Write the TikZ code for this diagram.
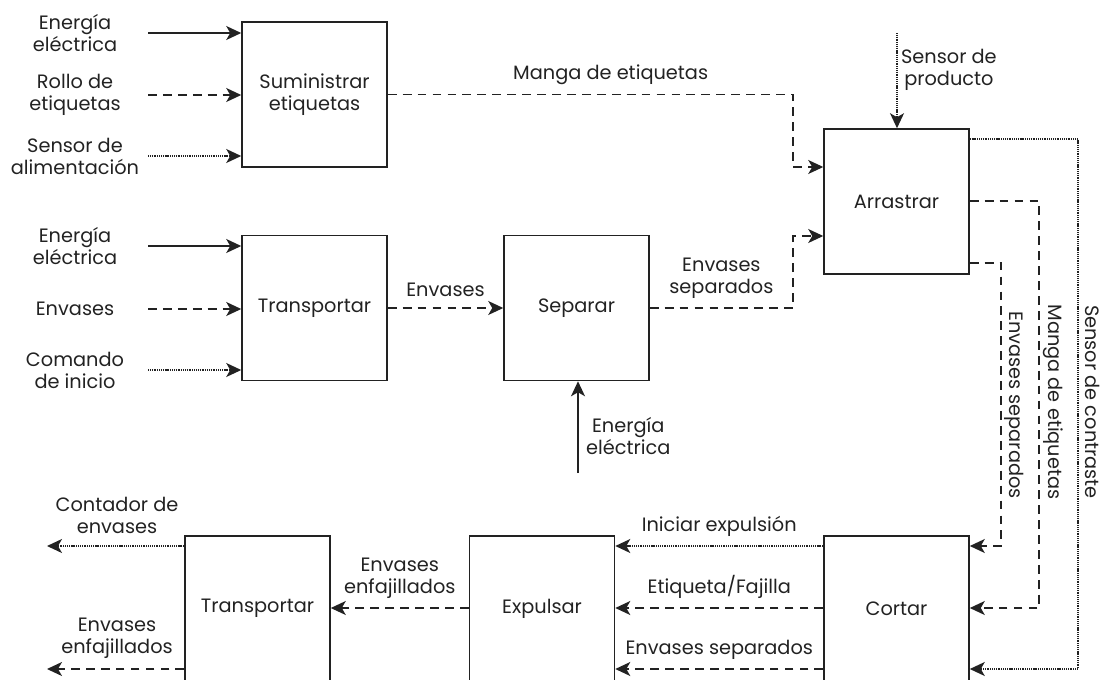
\documentclass[tikz,border=0pt]{standalone}
\usepackage{fontspec}
\setmainfont{Poppins}
\usetikzlibrary{positioning, arrows.meta, calc}
\definecolor{ink}{RGB}{34,34,34}

\tikzset{
    func/.style={draw=ink, line width=0.9pt, minimum width=2.9cm, minimum height=2.9cm,
        align=center, text=ink, font=\fontsize{11}{12.5}\selectfont},
    lbl/.style={align=center, text=ink, inner sep=1pt, font=\fontsize{11}{12.5}\selectfont},
    flow/.style={draw=ink, line width=0.85pt, -{Stealth[length=3mm, width=2.8mm, inset=0.8mm]}},
    sig/.style={flow, dash pattern=on 5pt off 3.5pt},
    ctl/.style={flow, dash pattern=on 0.6pt off 0.45pt},
}

\begin{document}
\begin{tikzpicture}[x=0.02cm, y=-0.02cm]
    \useasboundingbox (0,0) rectangle (1104,679);
    \clip (0,0) rectangle (1104,679);

    % functions
    \node[func] (sumi) at (314.5,94.5) {Suministrar\\etiquetas};
    \node[func] (trans) at (314.5,308) {Transportar};
    \node[func] (sep) at (576.5,308) {Separar};
    \node[func] (arr) at (896.5,201.5) {Arrastrar};
    \node[func] (cort) at (896.5,608.5) {Cortar};
    \node[func] (expu) at (542,608.5) {Expulsar};
    \node[func] (trans2) at (257.5,608.5) {Transportar};

    % inputs of Suministrar etiquetas
    \node[lbl] (e1) at (75,33) {Energía\\eléctrica};
    \node[lbl] (rollo) at (75,95) {Rollo de\\etiquetas};
    \node[lbl] (sal) at (75,156) {Sensor de\\alimentación};
    \coordinate (e1in) at (148,33);
    \coordinate (rolloin) at (148,95);
    \coordinate (salin) at (148,156);
    \draw[flow] (e1in) -- (sumi.west |- e1in);
    \draw[sig] (rolloin) -- (sumi.west |- rolloin);
    \draw[ctl] (salin) -- (sumi.west |- salin);

    % inputs of Transportar
    \node[lbl] (e2) at (75,246) {Energía\\eléctrica};
    \node[lbl] (env) at (75,309) {Envases};
    \node[lbl] (cmd) at (75,370) {Comando\\de inicio};
    \coordinate (e2in) at (148,246);
    \coordinate (envin) at (148,309);
    \coordinate (cmdin) at (148,370);
    \draw[flow] (e2in) -- (trans.west |- e2in);
    \draw[sig] (envin) -- (trans.west |- envin);
    \draw[ctl] (cmdin) -- (trans.west |- cmdin);

    % Separar
    \draw[sig] (trans.east) -- node[lbl, above=5pt] (lblenv) {Envases} (sep.west);
    \coordinate (e3in) at (578,473);
    \draw[flow] (e3in) -- (sep.south -| e3in);
    \node[lbl, anchor=west] (e3) at (584,436) {Energía\\eléctrica};

    % Arrastrar
    \coordinate (arrin1) at (arr.west |- 0,167);
    \coordinate (arrin2) at (arr.west |- 0,236);
    \draw[sig] (sumi.east) -- (793,94.5) node[lbl, pos=0.55, above=4pt] (lblmanga) {Manga de etiquetas}
        |- (arrin1);
    \draw[sig] (sep.east) -- (793,308) node[lbl, midway, above=4pt] (lblsep) {Envases\\separados}
        |- (arrin2);
    \coordinate (spin) at (897,33);
    \draw[ctl] (spin) -- (arr.north -| spin);
    \node[lbl, anchor=west] (sprod) at (899,70) {Sensor de\\producto};

    % Arrastrar to Cortar
    \coordinate (arrout1) at (arr.east |- 0,139);
    \coordinate (arrout2) at (arr.east |- 0,201);
    \coordinate (arrout3) at (arr.east |- 0,263);
    \coordinate (cortin1) at (cort.east |- 0,546);
    \coordinate (cortin2) at (cort.east |- 0,608);
    \coordinate (cortin3) at (cort.east |- 0,669);
    \draw[sig] (arrout3) -| (1001,400) |- (cortin1);
    \draw[sig] (arrout2) -| (1039,400) |- (cortin2);
    \draw[ctl] (arrout1) -| (1078,400) |- (cortin3);
    \node[lbl, rotate=-90] (lblsep2) at (1014,405) {Envases separados};
    \node[lbl, rotate=-90] (lblmanga2) at (1053,402) {Manga de etiquetas};
    \node[lbl, rotate=-90] (lblcon) at (1093,402) {Sensor de contraste};

    % Cortar to Expulsar
    \draw[ctl] (cortin1 -| cort.west) -- node[lbl, above=4pt] (lblini) {Iniciar expulsión} (cortin1 -| expu.east);
    \draw[sig] (cortin2 -| cort.west) -- node[lbl, above=4pt] (lbleti) {Etiqueta/Fajilla} (cortin2 -| expu.east);
    \draw[sig] (cortin3 -| cort.west) -- node[lbl, above=4pt] (lblsep3) {Envases separados} (cortin3 -| expu.east);

    % Expulsar to Transportar
    \draw[sig] (expu.west |- cortin2) -- node[lbl, above=4pt] (lblenf) {Envases\\enfajillados} (trans2.east |- cortin2);

    % outputs
    \coordinate (cntout) at (47,546);
    \coordinate (enfout) at (47,669);
    \draw[ctl] (trans2.west |- cntout) -- (cntout);
    \draw[sig] (trans2.west |- enfout) -- (enfout);
    \node[lbl] (lblcnt) at (117,515) {Contador de\\envases};
    \node[lbl] (lblenf2) at (117,638) {Envases\\enfajillados};
\end{tikzpicture}
\end{document}
